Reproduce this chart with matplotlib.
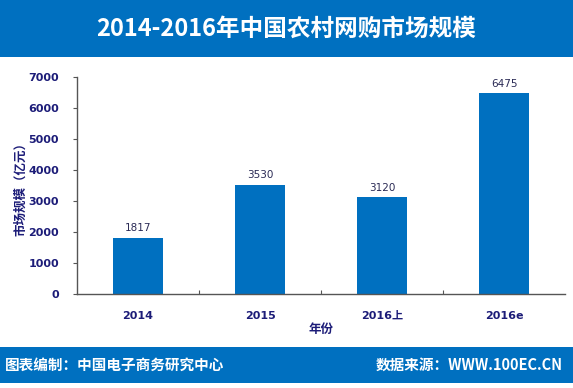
import matplotlib.pyplot as plt
from matplotlib.patches import Rectangle

plt.rcParams['font.family'] = ['Noto Sans CJK SC', 'DejaVu Sans']
LATIN = ['DejaVu Sans', 'Noto Sans CJK SC']

# data
categories = ['2014', '2015', '2016上', '2016e']
values = [1817, 3530, 3120, 6475]
y_ticks = [0, 1000, 2000, 3000, 4000, 5000, 6000, 7000]

title = '2014-2016年中国农村网购市场规模'
y_label = '市场规模（亿元）'
x_label = '年份'
footer_left = '图表编制：中国电子商务研究中心'
footer_right = '数据来源：WWW.100EC.CN'

BLUE = '#0070c0'
NAVY = '#1c1c78'

W, H = 573, 388
fig = plt.figure(figsize=(W / 100, H / 100), dpi=100)
fig.patch.set_facecolor('white')

# header and footer bars
fig.patches.append(Rectangle((0, 1 - 57 / H), 1, 57 / H, transform=fig.transFigure,
                             facecolor=BLUE, edgecolor='none', zorder=0))
fig.patches.append(Rectangle((0, 1 - 383 / H), 1, 36 / H, transform=fig.transFigure,
                             facecolor=BLUE, edgecolor='none', zorder=0))
fig.text(0.5, 1 - 29 / H, title, color='white', fontsize=17, fontweight='bold',
         ha='center', va='center')
fig.text(5 / W, 1 - 365 / H, footer_left, color='white', fontsize=10.5,
         fontweight='bold', ha='left', va='center')
fig.text(1 - 10 / W, 1 - 365 / H, footer_right, color='white', fontsize=10.5,
         fontweight='bold', ha='right', va='center')

# plot area: x 77..565, y 77..294 (pixels)
ax = fig.add_axes([77 / W, 1 - 294 / H, (565 - 77) / W, (294 - 77) / H])
ax.set_facecolor('none')

x = range(len(categories))
bars = ax.bar(x, values, width=0.41, color=BLUE, zorder=2)
for b, v in zip(bars, values):
    ax.text(b.get_x() + b.get_width() / 2, v + 150, str(v), ha='center', va='bottom',
            fontsize=7.5, color='#2a2a55', family=LATIN)

ax.set_xlim(-0.5, len(categories) - 0.5)
ax.set_ylim(0, 7000)
ax.set_yticks(y_ticks)
ax.set_yticklabels([str(t) for t in y_ticks], fontsize=8, fontweight='bold',
                   color=NAVY, family=LATIN)
ax.set_xticks([i + 0.5 for i in range(len(categories) - 1)])
ax.set_xticklabels([])
ax.set_xticks(list(x), minor=True)
ax.set_xticklabels(categories, minor=True, fontsize=8, fontweight='bold',
                   color=NAVY, family=LATIN)
ax.tick_params(axis='x', which='minor', length=0, pad=12)
ax.tick_params(axis='x', which='major', length=3, direction='in', color='#555555')
ax.tick_params(axis='y', length=3, direction='out', color='#555555', pad=10)

for side in ['top', 'right']:
    ax.spines[side].set_visible(False)
for side in ['left', 'bottom']:
    ax.spines[side].set_color('#555555')
    ax.spines[side].set_linewidth(1)

ax.set_ylabel(y_label, fontsize=9, fontweight='bold', color=NAVY, labelpad=1)
ax.set_xlabel(x_label, fontsize=9, fontweight='bold', color=NAVY, labelpad=2)

fig.savefig('out.png', dpi=100)
